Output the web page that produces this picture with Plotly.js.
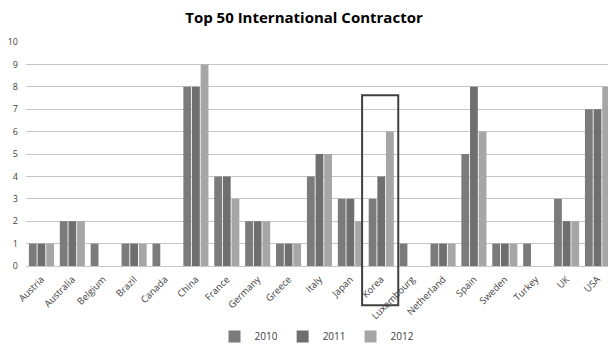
<!DOCTYPE html>
<html>
<head>
<meta charset="utf-8">
<script src="https://cdn.plot.ly/plotly-3.0.1.min.js"></script>
<style>html,body{margin:0;padding:0;background:#fff;}#chart{width:608px;height:345px;}</style>
</head>
<body>
<div id="chart"></div>
<script>
const categories = ["Austria","Australia","Belgium","Brazil","Canada","China","France","Germany","Greece","Italy","Japan","Korea","Luxembourg","Netherland","Spain","Sweden","Turkey","UK","USA"];
const seriesNames = ["2010","2011","2012"];
const values2010 = [1,2,1,1,1,8,4,2,1,4,3,3,1,1,5,1,1,3,7];
const values2011 = [1,2,0,1,0,8,4,2,1,5,3,4,0,1,8,1,0,2,7];
const values2012 = [1,2,0,1,0,9,3,2,1,5,2,6,0,1,6,1,0,2,8];
const yTicks = [0,1,2,3,4,5,6,7,8,9,10];
const colors = ["#7b7b7b","#6f6f6f","#a6a6a6"];

const allVals = [values2010, values2011, values2012];
const traces = allVals.map((v,i) => ({
  type: "bar",
  name: seriesNames[i],
  x: categories.map((c,j)=>j),
  y: v,
  marker: {color: colors[i]},
  hoverinfo: "skip"
}));

const layout = {
  width: 608, height: 345,
  margin: {l: 25.5, r: 0, t: 41.7, b: 79.3, autoexpand: false},
  paper_bgcolor: "#fff", plot_bgcolor: "#fff",
  title: {text: "<b>Top 50 International Contractor</b>", x: 0.5, xanchor: "center", y: 0.95, yanchor: "middle",
          font: {family: "Open Sans, Arial", size: 15, color: "#000"}},
  barmode: "group",
  bargap: 0.16,
  bargroupgap: 0.1,
  font: {family: "Open Sans, Arial", size: 9, color: "#404040"},
  xaxis: {
    range: [-0.5, 18.34],
    tickmode: "array",
    tickvals: categories.map((c,j)=>j),
    ticktext: categories,
    tickangle: -45,
    automargin: false,
    showgrid: false, zeroline: false, showline: false,
    ticks: "",
    ticklabelstandoff: 5,
    tickfont: {size: 9.5, color: "#404040"},
    fixedrange: true
  },
  yaxis: {
    range: [0, 10],
    tickmode: "array",
    tickvals: yTicks,
    ticktext: yTicks.map(String),
    automargin: false,
    showgrid: true, gridcolor: "#c6c6c6", gridwidth: 1,
    zeroline: true, zerolinecolor: "#c6c6c6", zerolinewidth: 1,
    showline: false, ticks: "",
    ticklabelstandoff: 7,
    tickfont: {size: 9, color: "#404040"},
    fixedrange: true
  },
  legend: {
    orientation: "h", x: 0.5, xanchor: "center", y: -0.25, yanchor: "top",
    yref: "paper",
    font: {size: 10, color: "#404040"},
    itemwidth: 30,
    traceorder: "normal"
  },
  showlegend: true,
  shapes: [{
    type: "rect", xref: "x", yref: "paper",
    x0: 10.38, x1: 11.55, y0: -0.175, y1: 0.762,
    line: {color: "#404040", width: 2}, fillcolor: "rgba(0,0,0,0)", layer: "above"
  }]
};

Plotly.newPlot("chart", traces, layout, {displayModeBar: false, staticPlot: true});
</script>
</body>
</html>
